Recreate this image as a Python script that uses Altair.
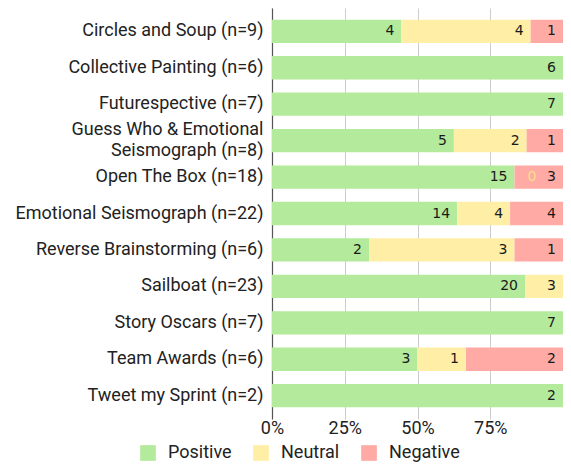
import altair as alt
import pandas as pd

tasks = [
    "Circles and Soup (n=9)",
    "Collective Painting (n=6)",
    "Futurespective (n=7)",
    "Guess Who & Emotional\nSeismograph (n=8)",
    "Open The Box (n=18)",
    "Emotional Seismograph (n=22)",
    "Reverse Brainstorming (n=6)",
    "Sailboat (n=23)",
    "Story Oscars (n=7)",
    "Team Awards (n=6)",
    "Tweet my Sprint (n=2)",
]
positive = [4, 6, 7, 5, 15, 14, 2, 20, 7, 3, 2]
neutral = [4, None, None, 2, 0, 4, 3, 3, None, 1, None]
negative = [1, None, None, 1, 3, 4, 1, None, None, 2, None]

categories = ["Positive", "Neutral", "Negative"]
colors = ["#b4ea9c", "#ffeea6", "#ffaaa5"]
x_ticks = [0, 0.25, 0.5, 0.75]

rows = []
for i, t in enumerate(tasks):
    for k, (cat, series) in enumerate(zip(categories, [positive, neutral, negative])):
        v = series[i]
        if v is not None:
            rows.append({"task": t, "sentiment": cat, "ord": k, "n": v})
df = pd.DataFrame(rows)

base = alt.Chart(df).transform_stack(
    stack="n",
    groupby=["task"],
    as_=["x0", "x1"],
    offset="normalize",
    sort=[alt.SortField("ord", order="ascending")],
)

y_enc = alt.Y(
    "task:N",
    sort=tasks,
    title=None,
    scale=alt.Scale(paddingInner=0.36, paddingOuter=0.32),
    axis=alt.Axis(
        labelExpr="split(datum.label, '\\n')",
        labelFont="Roboto",
        labelFontSize=18,
        labelColor="#222222",
        labelLineHeight=21,
        labelPadding=9,
        labelLimit=0,
        labelOffset={"condition": {"test": "indexof(datum.value, '\\n') >= 0", "value": -10.5}, "value": 0},
        ticks=False,
        domain=True,
        domainColor="#555555",
        domainWidth=1.2,
        grid=False,
        minExtent=264,
    ),
)

x_scale = alt.Scale(domain=[0, 1], nice=False)

bars = base.mark_bar(strokeWidth=0).encode(
    y=y_enc,
    x=alt.X(
        "x0:Q",
        scale=x_scale,
        title=None,
        axis=alt.Axis(
            values=x_ticks,
            format="%",
            labelFont="Roboto",
            labelFontSize=18,
            labelColor="#222222",
            labelPadding=0,
            labelFlush=False,
            ticks=False,
            domain=False,
            grid=True,
            gridColor="#cccccc",
            gridWidth=1,
        ),
    ),
    x2="x1:Q",
    color=alt.Color(
        "sentiment:N",
        scale=alt.Scale(domain=categories, range=colors),
        legend=alt.Legend(
            title=None,
            orient="none",
            direction="horizontal",
            legendX=-133,
            legendY=436,
            symbolType="square",
            symbolSize=246,
            symbolStrokeWidth=0,
            symbolOpacity=1,
            labelFont="Roboto",
            labelFontSize=18,
            labelColor="#222222",
            labelOffset=11,
            columnPadding=20,
            padding=0,
        ),
    ),
)

labels = base.transform_filter("datum.n > 0").mark_text(
    align="right",
    baseline="middle",
    dx=-7,
    font="DejaVu Sans",
    fontSize=14,
    color="#1a1a1a",
).encode(
    y=alt.Y("task:N", sort=tasks),
    x=alt.X("x1:Q", scale=x_scale),
    text="n:Q",
)

zero_labels = base.transform_filter("datum.n == 0").mark_text(
    align="right",
    baseline="middle",
    dx=22,
    font="DejaVu Sans",
    fontSize=14,
    color="#fde08c",
).encode(
    y=alt.Y("task:N", sort=tasks),
    x=alt.X("x1:Q", scale=x_scale),
    text="n:Q",
)

chart = alt.layer(bars, labels, zero_labels).properties(
    width=291,
    height=411,
    padding={"left": 0, "top": 0, "right": 0, "bottom": 0},
).configure_view(stroke=None)

chart.save("out.html", embed_options={"renderer": "svg", "actions": False})
